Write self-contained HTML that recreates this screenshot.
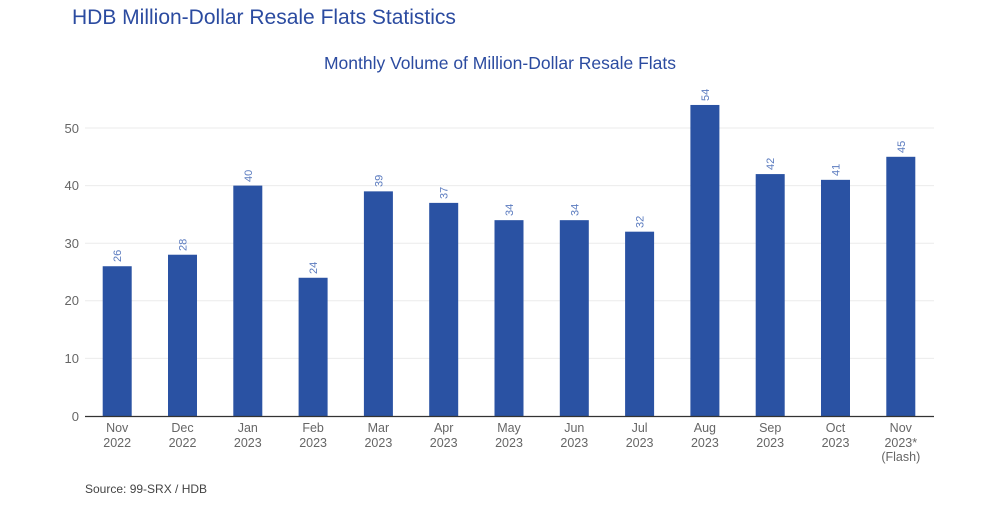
<!DOCTYPE html>
<html><head><style>
body{margin:0;background:#fff;width:1000px;height:502px;overflow:hidden;font-family:"Liberation Sans",sans-serif}
</style></head><body>
<svg width="1000" height="502" xmlns="http://www.w3.org/2000/svg" font-family="Liberation Sans, sans-serif">
<text x="72" y="24" font-size="21" fill="#2b4ba0">HDB Million-Dollar Resale Flats Statistics</text>
<text x="500" y="69" font-size="17.5" fill="#2b4ba0" text-anchor="middle">Monthly Volume of Million-Dollar Resale Flats</text>
<g stroke="#ebebeb" stroke-width="1">
<line x1="85" x2="934" y1="358.4" y2="358.4"/><line x1="85" x2="934" y1="300.8" y2="300.8"/>
<line x1="85" x2="934" y1="243.2" y2="243.2"/><line x1="85" x2="934" y1="185.6" y2="185.6"/>
<line x1="85" x2="934" y1="128" y2="128"/>
</g>
<g font-size="13" fill="#666" text-anchor="end">
<text x="79" y="421">0</text><text x="79" y="363">10</text><text x="79" y="305">20</text>
<text x="79" y="248">30</text><text x="79" y="190">40</text><text x="79" y="133">50</text>
</g>
<g fill="#2a52a3">
<rect x="102.7" y="266.24" width="29" height="149.76"/>
<rect x="168" y="254.72" width="29" height="161.28"/>
<rect x="233.3" y="185.6" width="29" height="230.4"/>
<rect x="298.6" y="277.76" width="29" height="138.24"/>
<rect x="363.9" y="191.36" width="29" height="224.64"/>
<rect x="429.2" y="202.88" width="29" height="213.12"/>
<rect x="494.5" y="220.16" width="29" height="195.84"/>
<rect x="559.8" y="220.16" width="29" height="195.84"/>
<rect x="625.1" y="231.68" width="29" height="184.32"/>
<rect x="690.4" y="104.96" width="29" height="311.04"/>
<rect x="755.7" y="174.08" width="29" height="241.92"/>
<rect x="821" y="179.84" width="29" height="236.16"/>
<rect x="886.3" y="156.8" width="29" height="259.2"/>
</g>
<g font-size="11" fill="#5b7bbf">
<text transform="translate(121.2,262) rotate(-90)">26</text>
<text transform="translate(186.5,251) rotate(-90)">28</text>
<text transform="translate(251.8,182) rotate(-90)">40</text>
<text transform="translate(317.1,274) rotate(-90)">24</text>
<text transform="translate(382.4,187) rotate(-90)">39</text>
<text transform="translate(447.7,199) rotate(-90)">37</text>
<text transform="translate(513,216) rotate(-90)">34</text>
<text transform="translate(578.3,216) rotate(-90)">34</text>
<text transform="translate(643.6,228) rotate(-90)">32</text>
<text transform="translate(708.9,101) rotate(-90)">54</text>
<text transform="translate(774.2,170) rotate(-90)">42</text>
<text transform="translate(839.5,176) rotate(-90)">41</text>
<text transform="translate(904.8,153) rotate(-90)">45</text>
</g>
<line x1="85" x2="934" y1="416.5" y2="416.5" stroke="#333" stroke-width="1.2"/>
<g font-size="12.5" fill="#666" text-anchor="middle">
<text x="117.2" y="432">Nov</text><text x="117.2" y="447">2022</text>
<text x="182.5" y="432">Dec</text><text x="182.5" y="447">2022</text>
<text x="247.8" y="432">Jan</text><text x="247.8" y="447">2023</text>
<text x="313.1" y="432">Feb</text><text x="313.1" y="447">2023</text>
<text x="378.4" y="432">Mar</text><text x="378.4" y="447">2023</text>
<text x="443.7" y="432">Apr</text><text x="443.7" y="447">2023</text>
<text x="509" y="432">May</text><text x="509" y="447">2023</text>
<text x="574.3" y="432">Jun</text><text x="574.3" y="447">2023</text>
<text x="639.6" y="432">Jul</text><text x="639.6" y="447">2023</text>
<text x="704.9" y="432">Aug</text><text x="704.9" y="447">2023</text>
<text x="770.2" y="432">Sep</text><text x="770.2" y="447">2023</text>
<text x="835.5" y="432">Oct</text><text x="835.5" y="447">2023</text>
<text x="900.8" y="432">Nov</text><text x="900.8" y="447">2023*</text><text x="900.8" y="461">(Flash)</text>
</g>
<text x="85" y="493" font-size="12" fill="#444">Source: 99-SRX / HDB</text>
</svg>
</body></html>
